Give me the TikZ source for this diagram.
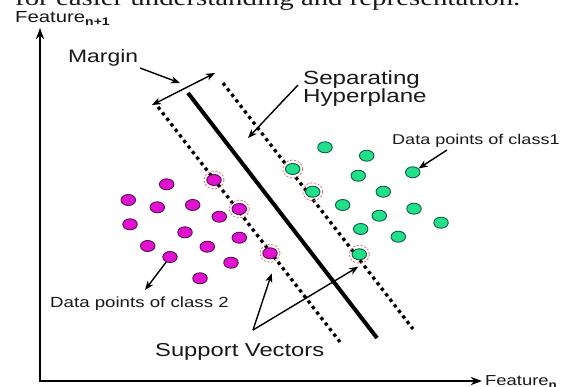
\documentclass[tikz,border=0pt]{standalone}
\usepackage{fontspec}
\setmainfont{Liberation Sans}
\newfontfamily\serifcap{Liberation Serif}
\usetikzlibrary{shapes.geometric,arrows.meta}

\definecolor{magfill}{HTML}{E012CF}
\definecolor{magline}{HTML}{5A0858}
\definecolor{grnfill}{HTML}{22E08A}
\definecolor{grnline}{HTML}{0E5A44}
\definecolor{ringred}{HTML}{E07474}

% labels are set slightly wide
\newcommand{\widetxt}[1]{\scalebox{1.27}[1]{#1}}
\newcommand{\fsz}[1]{\fontsize{#1}{#1}\selectfont}

\tikzset{
  pt2/.style={ellipse, draw=magline, fill=magfill, line width=0.9pt,
              minimum width=14.5pt, minimum height=11pt, inner sep=0pt},
  pt1/.style={ellipse, draw=grnline, fill=grnfill, line width=0.9pt,
              minimum width=14.5pt, minimum height=11pt, inner sep=0pt},
  ring/.style={ellipse, draw=ringred, line width=0.8pt,
               dash pattern=on 2.2pt off 1.6pt,
               minimum width=20pt, minimum height=18pt, inner sep=0pt},
  lbl/.style={anchor=base west, inner sep=0pt, text=black!90},
  pointer/.style={line width=1.4pt, -{Stealth[length=9pt,width=7pt,inset=2.5pt]}},
  axis/.style={line width=2.2pt, -{Stealth[length=11pt,width=8pt,inset=3pt]}},
  marginline/.style={line width=3.3pt, dash pattern=on 3.3pt off 3.7pt},
  hyper/.style={line width=4pt}
}

\begin{document}
\begin{tikzpicture}[x=1pt,y=-1pt]
\useasboundingbox (0,0) rectangle (569,387);
\clip (0,0) rectangle (569,387);
\fill[white] (0,0) rectangle (569,387);

% caption line running off the top edge
\node[lbl] (caption) at (15,5.5) {\serifcap\fsz{22.7}\widetxt{for easier understanding and representation.}};

% axes
\coordinate (origin) at (40,381);
\coordinate (xend) at (482,381);
\coordinate (yend) at (40,28);
\draw[axis] (38.5,381) -- (xend);
\draw[axis] (origin) -- (yend);
\node[lbl] (ylab) at (15,22.7) {\fsz{16}\widetxt{Feature\raisebox{-3pt}{\fsz{11}\bfseries n+1}}};
\node[lbl] (xlab) at (485,385.5) {\fsz{14.5}\widetxt{Feature\raisebox{-3pt}{\fsz{10.5}\bfseries n}}};

% margins and separating hyperplane
\coordinate (lowA) at (158,107);
\coordinate (lowB) at (340,342);
\coordinate (upA) at (223,83);
\coordinate (upB) at (413,329);
\coordinate (hypA) at (188,93);
\coordinate (hypB) at (377,338);
\draw[marginline] (lowA) -- (lowB);
\draw[marginline] (upA) -- (upB);
\draw[hyper] (hypA) -- (hypB);

% class 2 points
\foreach \n/\x/\y in {1/166.7/184.3, 2/128.3/200, 3/157.3/207.3, 4/192.7/205,
  5/214/180, 6/239.3/209, 7/219.3/216.7, 8/130/224.3, 9/185/232.3,
  10/239.3/237.7, 11/147.7/246, 12/207.3/246.7, 13/270/253.3, 14/170/257,
  15/231/262.7, 16/200/278.3}
  \node[pt2] (m\n) at (\x,\y) {};

% class 1 points
\foreach \n/\x/\y in {1/325/147.3, 2/366.7/155.7, 3/292.7/169, 4/358.3/175.7,
  5/412.7/172.3, 6/312.7/191.7, 7/383.3/191.7, 8/342.7/205, 9/414/208.7,
  10/379.3/215.7, 11/441/222.7, 12/360.7/229, 13/398.3/236.7, 14/359.3/254.3}
  \node[pt1] (g\n) at (\x,\y) {};

% support vectors
\foreach \s in {m5,m6,m13,g3,g6,g14}
  \node[ring] (ring-\s) at (\s) {};

% labels
\node[lbl] (margin) at (68,63) {\fsz{18}\widetxt{Margin}};
\node[lbl] (sep) at (303,85) {\fsz{19}\widetxt{Separating}};
\node[lbl] (hyp) at (303,103) {\fsz{19}\widetxt{Hyperplane}};
\node[lbl] (cls1) at (392,145) {\fsz{14.2}\widetxt{Data points of class1}};
\node[lbl] (cls2) at (50,307) {\fsz{14.7}\widetxt{Data points of class 2}};
\node[lbl] (sv) at (155,356) {\fsz{18.7}\widetxt{Support Vectors}};

% margin width arrow and pointers
\coordinate (mwA) at (152,105);
\coordinate (mwB) at (215,73);
\draw[line width=1.4pt, {Stealth[length=9pt,width=7pt,inset=2.5pt]}-{Stealth[length=9pt,width=7pt,inset=2.5pt]}] (mwA) -- (mwB);

\coordinate (mpS) at (140,68);
\coordinate (mpT) at (180,83);
\draw[pointer] (mpS) -- (mpT);

\coordinate (hpS) at (298,85);
\coordinate (hpT) at (248,138);
\draw[pointer] (hpS) -- (hpT);

\coordinate (c1S) at (447,150);
\draw[pointer] (c1S) -- (g5);

\coordinate (c2T) at (145,290);
\draw[pointer] (m14) -- (c2T);

\coordinate (svS) at (253,330);
\coordinate (svT1) at (271.7,273.3);
\coordinate (svT2) at (358.3,266.7);
\draw[pointer] (svS) -- (svT1);
\draw[pointer] (svS) -- (svT2);
\end{tikzpicture}
\end{document}
